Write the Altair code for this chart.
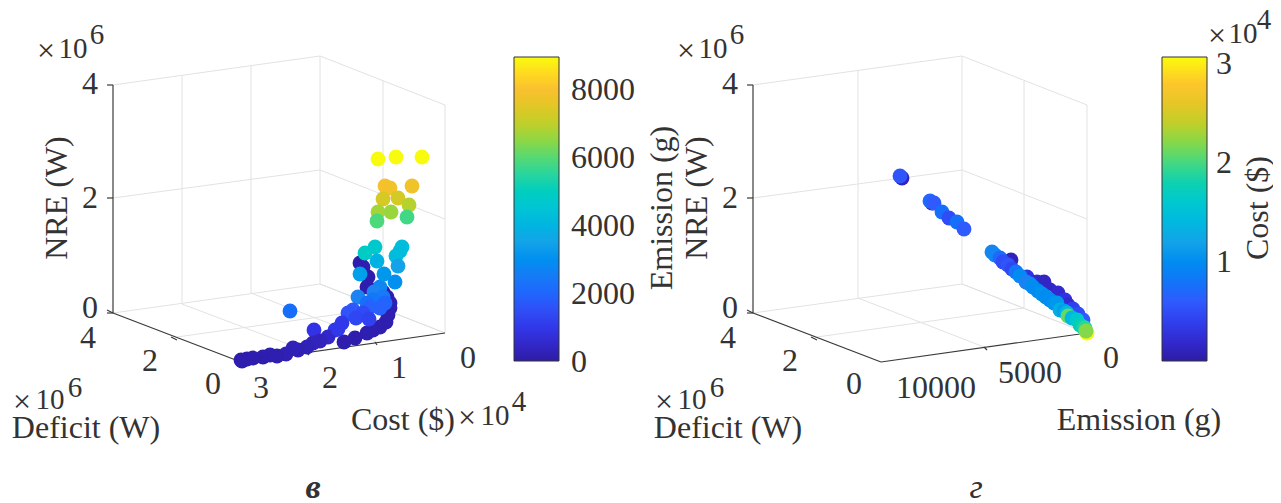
import altair as alt
import pandas as pd

PARULA = ["#2e1ca6", "#3232e6", "#2f5cff", "#1f82f2", "#1ea6e6", "#02c4d6",
          "#25d3a8", "#72da55", "#d0cb25", "#fdbf30", "#f9fb0e"]

# Panel "в": projected position on the page, and Emission (g)
left_x = [360,363,368,367,375,383,387,390,390,388,386,380,373,367,355,344,
          290,314,335,328,320,313,307,298,293,286,277,270,263,253,247,241,242,
          358,380,374,383,373,367,385,380,370,353,348,363,356,369,342,338,
          378,396,422,385,390,412,383,398,409,378,391,377,407,
          365,375,402,400,396,377,398,360,384,395]
left_y = [263,267,277,287,290,292,297,303,308,315,322,327,330,333,338,342,
          311,330,330,337,341,343,347,350,348,354,356,355,357,358,359,360,361,
          297,287,292,297,300,303,303,308,307,310,313,313,318,319,323,329,
          159,157,157,186,188,186,199,198,205,212,212,221,217,
          253,247,247,251,256,261,266,274,274,282]
left_c = [100,100,100,100,100,100,150,150,150,150,150,150,150,150,100,100,
          2200,900,1000,500,300,300,250,200,250,200,150,150,100,100,100,100,100,
          2700,2800,2700,2500,2400,2300,2000,1900,1900,1700,1600,1400,1300,1200,1000,1000,
          8950,8950,8950,7900,7850,7800,7300,7250,6900,6700,6600,5900,5800,
          4900,4700,4300,4250,4200,3900,3500,3400,3200,3000]

# Panel "г": projected position on the page, and Cost ($, x10^4)
right_x = [902,932,1011,1006,1027,1037,1044,1050,1058,1065,1068,1073,1078,1083,
           1087,1046,
           900,930,934,942,949,957,964,992,995,1000,1003,1008,1012,1016,1020,1026,1030,1033,1038,1042,
           1046,1050,1054,1057,1060,1064,1067,1068,1072,1077,1080,1083,1085,1086]
right_y = [178,203,260,262,277,282,282,290,293,300,305,309,314,320,
           333,297,
           176,201,203,212,218,222,229,252,255,258,262,265,269,272,276,282,284,287,291,294,
           297,300,303,303,310,311,313,316,318,320,325,327,328,331]
right_c = [0.1,0.1,0.1,0.15,0.3,0.2,0.15,0.15,0.2,0.3,0.2,0.4,0.5,0.6,
           3.05,2.7,
           0.55,0.7,0.6,0.75,0.5,0.75,0.6,0.95,0.95,0.7,0.5,0.55,0.45,0.8,1.0,0.9,0.95,1.0,1.0,1.05,
           1.0,1.0,1.05,1.1,1.3,1.15,1.4,2.1,1.4,1.6,1.75,1.8,1.9,2.2]

# Box lines of the two 3-D frames, read from the page
grid_x  = [113,320,445,320,320,113,320,182,251,383,113,320,182,251,177,
           753,962,1087,962,962,753,962,858,1024,753,962,858,817]
grid_y  = [85,56,105,56,284,313,284,76,66,81,198,170,304,293,337,
           85,56,105,56,284,313,284,71,81,198,170,298,337]
grid_x2 = [320,445,445,320,445,320,445,182,251,383,320,445,309,377,383,
           962,1087,1087,962,1087,962,1087,858,1024,962,1087,984,1024]
grid_y2 = [56,105,333,284,333,284,333,304,293,308,170,219,352,342,308,
           56,105,333,284,333,284,333,298,308,170,219,347,308]

axis_x  = [113,113,241,107,107,107,113,171,306,375,
           753,753,881,747,747,747,753,811,984]
axis_y  = [85,313,362,85,198,313,313,337,352,342,
           85,313,362,85,198,313,313,337,347]
axis_x2 = [113,241,445,113,113,113,107,177,309,377,
           753,881,1087,753,753,753,747,817,987]
axis_y2 = [313,362,333,85,198,313,310,340,355,345,
           313,362,333,85,198,313,310,340,350]

tick_text = ["4","2","0","4","2","0","3","2","1","0",
             "4","2","0","4","2","0","10000","5000","0",
             "8000","6000","4000","2000","0","3","2","1"]
tick_x = [90,90,90,88,150,213,261,330,399,468,
          730,730,730,728,790,854,936,1030,1111,
          603,603,603,603,579,1224,1224,1224]
tick_y = [84,198,308,338,361,384,388,378,368,358,
          84,198,308,338,361,384,388,373,358,
          90,158,226,294,362,64,163,262]

label_text = ["Deficit (W)","Cost ($)","Deficit (W)","Emission (g)"]
label_x = [86,403,728,1139]
label_y = [428,420,428,420]

times_text = ["×","×","×","×","×","×"]
times_x = [46,22,467,686,664,1217]
times_y = [51,402,418,51,402,36]
ten_text = ["10","10","10","10","10","10"]
ten_x = [73,50,495,713,692,1243]
ten_y = [49,400,416,49,400,34]
exp_text = ["6","6","4","6","6","4"]
exp_x = [97,75,519,737,717,1264]
exp_y = [35,388,402,35,388,20]

rot_text = ["NRE (W)","NRE (W)","Emission (g)","Cost ($)"]
rot_x = [57,697,662,1258]
rot_y = [198,198,208,208]

PAGE_X = alt.Scale(domain=[8, 1273])
PAGE_Y = alt.Scale(domain=[503, 8])
X = lambda f="x": alt.X(f + ":Q", scale=PAGE_X, axis=None)
Y = lambda f="y": alt.Y(f + ":Q", scale=PAGE_Y, axis=None)
FONT = "Liberation Serif"
INK = "#333333"

def segs(color, width, xs, ys, x2s, y2s):
    d = pd.DataFrame({"x": xs, "y": ys, "x2": x2s, "y2": y2s})
    return alt.Chart(d).mark_rule(color=color, strokeWidth=width).encode(
        x=X(), y=Y(), x2="x2:Q", y2="y2:Q")

def texts(t, xs, ys, size=32, **kw):
    d = pd.DataFrame({"t": t, "x": xs, "y": ys})
    return alt.Chart(d).mark_text(font=FONT, fontSize=size, color=INK,
                                  align="center", baseline="middle", **kw).encode(
        x=X(), y=Y(), text="t:N")

def legend(px, py, vals):
    return alt.Legend(orient="none", legendX=px - 8, legendY=py - 8, title=None,
                      gradientLength=304, gradientThickness=45, values=vals,
                      gradientStrokeColor="#333333", gradientStrokeWidth=1,
                      labelOpacity=0, labelFontSize=1, labelOverlap=False)

n = len(PARULA)
dom_l = [8950 * i / (n - 1) for i in range(n)]
dom_r = [3.07 * i / (n - 1) for i in range(n)]

pts_l = alt.Chart(pd.DataFrame({"x": left_x, "y": left_y, "emission": left_c})).mark_circle(
    size=220, opacity=1, stroke=None).encode(
    x=X(), y=Y(),
    color=alt.Color("emission:Q", scale=alt.Scale(domain=dom_l, range=PARULA),
                    legend=legend(514, 57, [0, 2000, 4000, 6000, 8000])))
pts_r = alt.Chart(pd.DataFrame({"x": right_x, "y": right_y, "cost": right_c})).mark_circle(
    size=220, opacity=1, stroke=None).encode(
    x=X(), y=Y(),
    color=alt.Color("cost:Q", scale=alt.Scale(domain=dom_r, range=PARULA),
                    legend=legend(1162, 57, [1, 2, 3])))

chart = alt.layer(
    segs("#e2e2e2", 1, grid_x, grid_y, grid_x2, grid_y2),
    segs("#3a3a3a", 1.2, axis_x, axis_y, axis_x2, axis_y2),
    pts_l, pts_r,
    texts(tick_text, tick_x, tick_y),
    texts(label_text, label_x, label_y),
    texts(times_text, times_x, times_y),
    texts(ten_text, ten_x, ten_y, size=29),
    texts(exp_text, exp_x, exp_y, size=29),
    texts(rot_text, rot_x, rot_y, angle=270),
    texts(["в"], [313], [488], size=34, fontStyle="italic", fontWeight="bold"),
    texts(["г"], [976], [488], size=34, fontStyle="italic"),
).resolve_scale(color="independent").properties(
    width=1265, height=495, padding=0,
    autosize=alt.AutoSizeParams(type="none"),
).configure_view(stroke=None)

chart.save("out.html", embed_options={"renderer": "svg", "actions": False})
